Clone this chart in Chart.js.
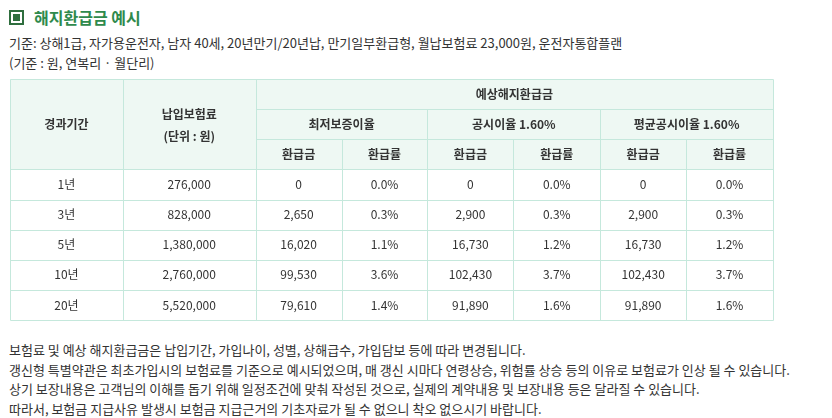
<!DOCTYPE html>
<html><head><meta charset="utf-8">
<script src="https://cdn.jsdelivr.net/npm/chart.js@4"></script>
<style>
body{margin:0;background:#fff;font-family:"Noto Sans CJK KR","Noto Sans",sans-serif;color:#333;width:832px;height:418px;position:relative;overflow:hidden}
.t{position:absolute;left:9px;top:5px;font-size:16px;font-weight:bold;color:#2f8a4c;display:flex;align-items:center}
.t i{display:inline-block;width:15px;height:15px;border:2px solid #2f6e3e;box-sizing:border-box;margin-right:10px;position:relative}
.t i:after{content:"";position:absolute;left:2px;top:2px;width:7px;height:7px;background:#2f6e3e}
.s{position:absolute;left:9px;top:33px;font-size:13px;line-height:20px}
.n{position:absolute;left:9px;top:340px;font-size:13px;line-height:19.5px}
#w{position:absolute;left:9px;top:78px;width:765px;height:243px}
</style></head><body>
<div class="t"><i></i>해지환급금 예시</div>
<div class="s">기준: 상해1급, 자가용운전자, 남자 40세, 20년만기/20년납, 만기일부환급형, 월납보험료 23,000원, 운전자통합플랜<br>(기준 : 원, 연복리 · 월단리)</div>
<div id="w"><canvas id="c"></canvas></div>
<div class="n">보험료 및 예상 해지환급금은 납입기간, 가입나이, 성별, 상해급수, 가입담보 등에 따라 변경됩니다.<br>갱신형 특별약관은 최초가입시의 보험료를 기준으로 예시되었으며, 매 갱신 시마다 연령상승, 위험률 상승 등의 이유로 보험료가 인상 될 수 있습니다.<br>상기 보장내용은 고객님의 이해를 돕기 위해 일정조건에 맞춰 작성된 것으로, 실제의 계약내용 및 보장내용 등은 달라질 수 있습니다.<br>따라서, 보험금 지급사유 발생시 보험금 지급근거의 기초자료가 될 수 없으니 착오 없으시기 바랍니다.</div>
<script>
const periods = ["1년", "3년", "5년", "10년", "20년"];
const premiums = ["276,000", "828,000", "1,380,000", "2,760,000", "5,520,000"];
const minAmt = ["0", "2,650", "16,020", "99,530", "79,610"];
const minRate = ["0.0%", "0.3%", "1.1%", "3.6%", "1.4%"];
const pubAmt = ["0", "2,900", "16,730", "102,430", "91,890"];
const pubRate = ["0.0%", "0.3%", "1.2%", "3.7%", "1.6%"];
const avgAmt = ["0", "2,900", "16,730", "102,430", "91,890"];
const avgRate = ["0.0%", "0.3%", "1.2%", "3.7%", "1.6%"];
const rateGroups = ["최저보증이율", "공시이율 1.60%", "평균공시이율 1.60%"];
const colWeights = [113, 133, 86, 86, 86, 87, 86, 87];

const rowKeys = ["h1", "h2", "h3", "r0", "r1", "r2", "r3", "r4"];
const bodyCols = [periods, premiums, minAmt, minRate, pubAmt, pubRate, avgAmt, avgRate];

const tablePlugin = {
	id: "table",
	afterDraw(chart) {
		const ctx = chart.ctx, a = chart.chartArea, y = chart.scales.y;
		const total = colWeights.reduce((s, v) => s + v, 0);
		const edges = [a.left];
		colWeights.forEach(w => edges.push(edges[edges.length - 1] + w / total * (a.right - a.left)));
		const band = (a.bottom - a.top) / rowKeys.length;
		const top = i => y.getPixelForValue(i) - band / 2;
		const mid = i => y.getPixelForValue(i);
		ctx.save();
		ctx.fillStyle = "#eef8f3";
		ctx.fillRect(a.left, top(0), a.right - a.left, band * 3);
		ctx.strokeStyle = "#c5e8dc";
		ctx.lineWidth = 1;
		const line = (x1, y1, x2, y2) => { ctx.beginPath(); ctx.moveTo(Math.round(x1) + .5, Math.round(y1) + .5); ctx.lineTo(Math.round(x2) + .5, Math.round(y2) + .5); ctx.stroke(); };
		line(a.left, top(0), a.right, top(0));
		line(edges[2], top(1), a.right, top(1));
		line(edges[2], top(2), a.right, top(2));
		for (let i = 3; i <= rowKeys.length; i++) line(a.left, top(0) + band * i, a.right, top(0) + band * i);
		[0, 1, 2, 8].forEach(k => line(edges[k], top(0), edges[k], a.bottom));
		[4, 6].forEach(k => line(edges[k], top(1), edges[k], a.bottom));
		[3, 5, 7].forEach(k => line(edges[k], top(2), edges[k], a.bottom));
		ctx.textAlign = "center"; ctx.textBaseline = "middle";
		ctx.fillStyle = "#333";
		ctx.font = "bold 12px 'Noto Sans CJK KR'";
		const cx = (i, j) => (edges[i] + edges[j]) / 2;
		ctx.fillText("경과기간", cx(0, 1), mid(1));
		ctx.fillText("납입보험료", cx(1, 2), mid(1) - 10);
		ctx.fillText("(단위 : 원)", cx(1, 2), mid(1) + 12);
		ctx.fillText("예상해지환급금", cx(2, 8), mid(0));
		rateGroups.forEach((g, k) => {
			ctx.fillText(g, cx(2 + 2 * k, 4 + 2 * k), mid(1));
			ctx.fillText("환급금", cx(2 + 2 * k, 3 + 2 * k), mid(2));
			ctx.fillText("환급률", cx(3 + 2 * k, 4 + 2 * k), mid(2));
		});
		ctx.font = "12px 'Noto Sans CJK KR'";
		bodyCols.forEach((col, c) => col.forEach((v, r) => ctx.fillText(v, cx(c, c + 1), mid(r + 3))));
		ctx.restore();
	}
};

new Chart(document.getElementById("c"), {
	type: "bar",
	data: { labels: rowKeys, datasets: [{ data: [] }] },
	options: {
		responsive: true, maintainAspectRatio: false, animation: false,
		layout: { padding: 1 },
		plugins: { legend: { display: false }, tooltip: { enabled: false } },
		scales: {
			x: { display: false, type: "linear", min: 0, max: 1 },
			y: { display: false, type: "category", labels: rowKeys, offset: true }
		}
	},
	plugins: [tablePlugin]
});
</script>
</body></html>
